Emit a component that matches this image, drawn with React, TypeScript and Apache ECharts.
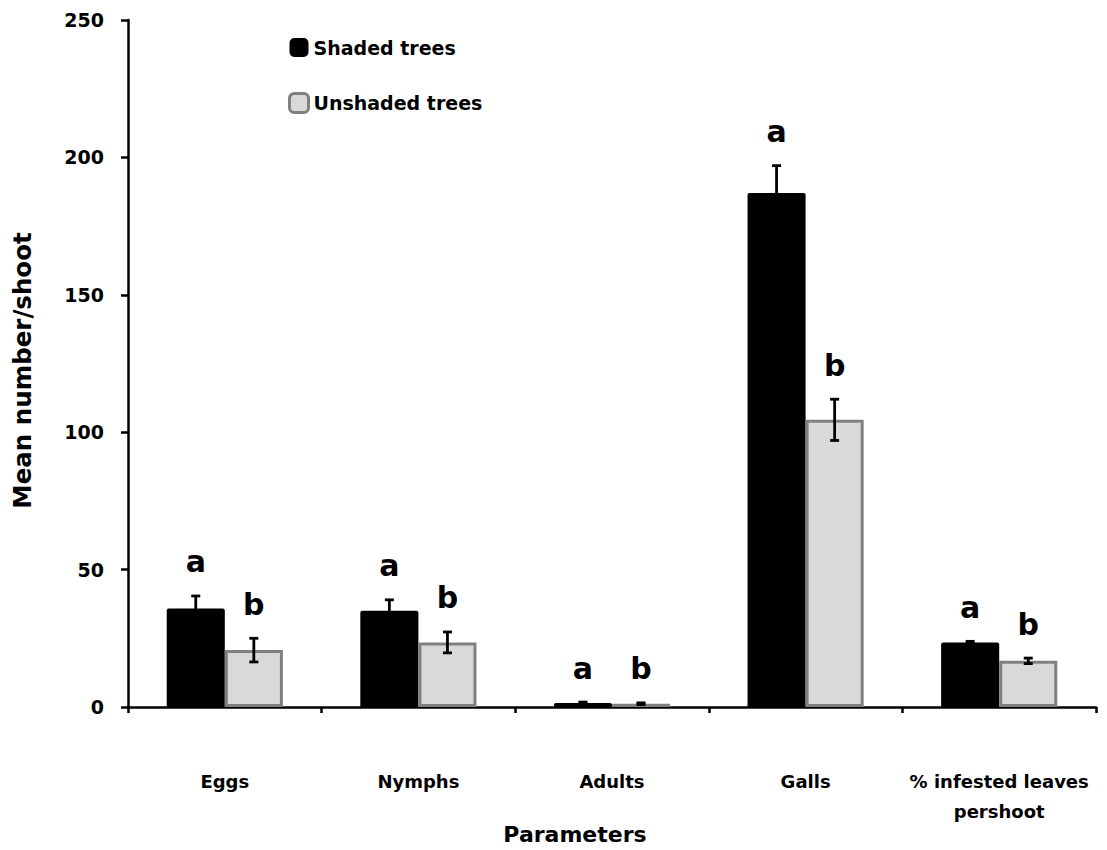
import React, { useEffect, useRef } from "react";
import * as echarts from "echarts";

const categories = ["Eggs", "Nymphs", "Adults", "Galls", "% infested leaves\npershoot"];
const shadedMeans = [35.8, 35, 1.5, 187, 23.5];
const shadedErrors = [4.6, 4, 0.3, 10, 0.4];
const unshadedMeans = [20.7, 23.5, 1.2, 104.5, 16.8];
const unshadedErrors = [4.3, 3.8, 0.3, 7.5, 1];
const shadedLetters = ["a", "a", "a", "a", "a"];
const unshadedLetters = ["b", "b", "b", "b", "b"];
const yTicks = [0, 50, 100, 150, 200, 250];

const FONT = "DejaVu Sans";
const BAR_FRAC = 0.3;

function errorSeries(means: number[], errs: number[], letters: string[], side: number) {
  return {
    type: "custom",
    data: means.map((m, i) => [i, m, errs[i]]),
    z: 10,
    renderItem: (params: any, api: any) => {
      const i = api.value(0);
      const m = api.value(1);
      const e = api.value(2);
      const letter = letters[params.dataIndex];
      const bw = api.size([1, 0])[0] * BAR_FRAC;
      const c = api.coord([i, m]);
      const x = c[0] + side * bw / 2;
      const top = api.coord([i, m + e])[1];
      const bot = api.coord([i, m - e])[1];
      const cap = 4.5;
      const st = { stroke: "#000", lineWidth: 2.8 };
      return {
        type: "group",
        children: [
          { type: "line", shape: { x1: x, y1: top, x2: x, y2: bot }, style: st },
          { type: "line", shape: { x1: x - cap, y1: top, x2: x + cap, y2: top }, style: st },
          { type: "line", shape: { x1: x - cap, y1: bot, x2: x + cap, y2: bot }, style: st },
          {
            type: "text",
            x: x,
            y: top - 19,
            style: {
              text: letter,
              fill: "#000",
              font: `bold 30px "${FONT}"`,
              textAlign: "center",
              textVerticalAlign: "bottom",
            },
          },
        ],
      };
    },
  };
}

export default function App() {
  const ref = useRef<HTMLDivElement>(null);
  useEffect(() => {
    if (!ref.current) return;
    const chart = echarts.init(ref.current, null, { renderer: "svg" });
    chart.setOption({
      animation: false,
      backgroundColor: "#fff",
      grid: {
        left: 128,
        right: 11,
        top: 20,
        bottom: 143,
        containLabel: false,
        outerBoundsMode: "none",
      },
      legend: {
        orient: "vertical",
        left: 288,
        top: 38,
        padding: 0,
        itemWidth: 19,
        itemHeight: 19,
        itemGap: 35,
        textStyle: { fontFamily: FONT, fontWeight: "bold", fontSize: 19, color: "#000" },
        data: [
          { name: "Shaded trees", icon: "roundRect", itemStyle: { color: "#000" } },
          {
            name: "Unshaded trees",
            icon: "roundRect",
            itemStyle: { color: "#d9d9d9", borderColor: "#808080", borderWidth: 3 },
          },
        ],
      },
      xAxis: {
        type: "category",
        data: categories,
        name: "Parameters",
        nameLocation: "middle",
        nameGap: 116,
        nameMoveOverlap: false,
        nameTextStyle: {
          fontFamily: FONT,
          fontWeight: "bold",
          fontSize: 22,
          color: "#000",
          padding: [0, 74, 0, 0],
        },
        axisLine: { lineStyle: { color: "#000", width: 2.5 } },
        axisTick: { show: true, length: 6, lineStyle: { color: "#000", width: 2.5 } },
        axisLabel: {
          interval: 0,
          margin: 59,
          fontFamily: FONT,
          fontWeight: "bold",
          fontSize: 18,
          color: "#000",
          lineHeight: 30,
        },
      },
      yAxis: {
        type: "value",
        min: 0,
        max: 250,
        interval: 50,
        name: "Mean number/shoot",
        nameLocation: "middle",
        nameGap: 93,
        nameMoveOverlap: false,
        nameTextStyle: {
          fontFamily: FONT,
          fontWeight: "bold",
          fontSize: 24.5,
          color: "#000",
          padding: [0, 14, 0, 0],
        },
        splitLine: { show: false },
        axisLine: { show: true, lineStyle: { color: "#000", width: 2.5 } },
        axisTick: { show: true, length: 7, lineStyle: { color: "#000", width: 2.5 } },
        axisLabel: {
          margin: 24,
          fontFamily: FONT,
          fontWeight: "bold",
          fontSize: 19,
          color: "#000",
          formatter: (v: number) => (yTicks.includes(v) ? String(v) : ""),
        },
      },
      series: [
        {
          name: "Shaded trees",
          type: "bar",
          data: shadedMeans,
          barWidth: `${BAR_FRAC * 100}%`,
          barGap: "0%",
          itemStyle: { color: "#000", borderRadius: [2, 2, 0, 0] },
        },
        {
          name: "Unshaded trees",
          type: "bar",
          data: unshadedMeans,
          barWidth: `${BAR_FRAC * 100}%`,
          barGap: "0%",
          itemStyle: { color: "#d9d9d9", borderColor: "#808080", borderWidth: 3 },
        },
        errorSeries(shadedMeans, shadedErrors, shadedLetters, -1),
        errorSeries(unshadedMeans, unshadedErrors, unshadedLetters, 1),
      ],
    });
    return () => chart.dispose();
  }, []);
  return (
    <div
      ref={ref}
      style={{ position: "absolute", left: 0, top: 0, width: 1107, height: 850 }}
    />
  );
}
